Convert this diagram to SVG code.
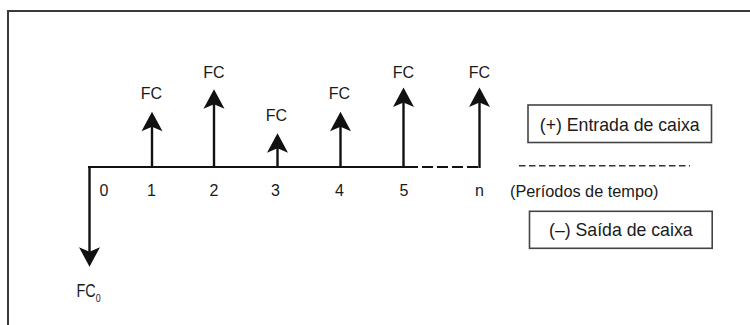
<svg xmlns="http://www.w3.org/2000/svg" xmlns:xlink="http://www.w3.org/1999/xlink" width="750" height="325" viewBox="0 0 750 325">
<style>
  .frame { fill: none; stroke: #3a3a3a; stroke-width: 2; }
  .axis { fill: none; stroke: #111; stroke-width: 2.2; }
  .shaft { fill: none; stroke: #111; stroke-width: 2.4; }
  .head { fill: #111; stroke: none; }
  .box { fill: #fff; stroke: #444; stroke-width: 1.6; }
  .lbl { font-family: "Liberation Sans", Arial, sans-serif; font-size: 16px; fill: #1a1a1a; text-anchor: middle; }
  .big { font-family: "Liberation Sans", Arial, sans-serif; font-size: 17.7px; fill: #1a1a1a; text-anchor: middle; }
  .mid { font-family: "Liberation Sans", Arial, sans-serif; font-size: 16.3px; fill: #1a1a1a; text-anchor: start; }
  .dash { fill: none; stroke: #333; stroke-width: 1.4; stroke-dasharray: 6.5 3.5; }
</style>
<defs>
  <path id="ah" d="M0,0 L10.5,19.5 L0,15 L-10.5,19.5 Z"/>
</defs>

<g id="frame">
  <polyline class="frame" points="8,325 8,11 750,11"/>
</g>

<g id="connectors">
  <line class="axis" x1="88" y1="167" x2="418" y2="167"/>
  <line class="axis" x1="422" y1="167" x2="479" y2="167" stroke-dasharray="11 4"/>
</g>

<g id="node-0">
  <line class="shaft" x1="89.5" y1="166" x2="89.5" y2="252"/>
  <use xlink:href="#ah" class="head" transform="translate(89.5,266.7) rotate(180)"/>
  <text class="lbl" x="104" y="196">0</text>
  <text transform="translate(76.5,296.7) scale(0.8,1)" font-family="Liberation Sans, Arial, sans-serif" font-size="18" fill="#1a1a1a">FC<tspan font-size="11" dy="5.5">0</tspan></text>
</g>

<g id="node-1">
  <line class="shaft" x1="152" y1="167" x2="152" y2="124"/>
  <use xlink:href="#ah" class="head" transform="translate(152,111.7)"/>
  <text class="lbl" x="151.5" y="99">FC</text>
  <text class="lbl" x="151.5" y="196">1</text>
</g>

<g id="node-2">
  <line class="shaft" x1="214" y1="167" x2="214" y2="102"/>
  <use xlink:href="#ah" class="head" transform="translate(214,89.3)"/>
  <text class="lbl" x="214" y="77.7">FC</text>
  <text class="lbl" x="214" y="196">2</text>
</g>

<g id="node-3">
  <line class="shaft" x1="277.5" y1="167" x2="277.5" y2="146"/>
  <use xlink:href="#ah" class="head" transform="translate(277.5,133.3)"/>
  <text class="lbl" x="276.5" y="120.7">FC</text>
  <text class="lbl" x="275.5" y="196">3</text>
</g>

<g id="node-4">
  <line class="shaft" x1="340.5" y1="167" x2="340.5" y2="124"/>
  <use xlink:href="#ah" class="head" transform="translate(340.5,111.7)"/>
  <text class="lbl" x="339.5" y="99">FC</text>
  <text class="lbl" x="339.5" y="196">4</text>
</g>

<g id="node-5">
  <line class="shaft" x1="403.5" y1="167" x2="403.5" y2="100"/>
  <use xlink:href="#ah" class="head" transform="translate(403.5,87.5)"/>
  <text class="lbl" x="403.5" y="77.7">FC</text>
  <text class="lbl" x="404" y="196">5</text>
</g>

<g id="node-n">
  <line class="shaft" x1="479.5" y1="168" x2="479.5" y2="100"/>
  <use xlink:href="#ah" class="head" transform="translate(479.5,87.5)"/>
  <text class="lbl" x="479.5" y="77.7">FC</text>
  <text class="lbl" x="479.5" y="196">n</text>
</g>

<g id="legend-entrada">
  <rect class="box" x="528" y="105" width="183.5" height="37.5"/>
  <text class="big" x="619.7" y="130.5">(+) Entrada de caixa</text>
</g>

<g id="legend-periodos">
  <line class="dash" x1="519" y1="165.7" x2="690" y2="165.7"/>
  <text class="mid" x="510" y="196.5">(Períodos de tempo)</text>
</g>

<g id="legend-saida">
  <rect class="box" x="529.5" y="211.3" width="182.7" height="37"/>
  <text class="big" x="620.8" y="235.5">(–) Saída de caixa</text>
</g>
</svg>
